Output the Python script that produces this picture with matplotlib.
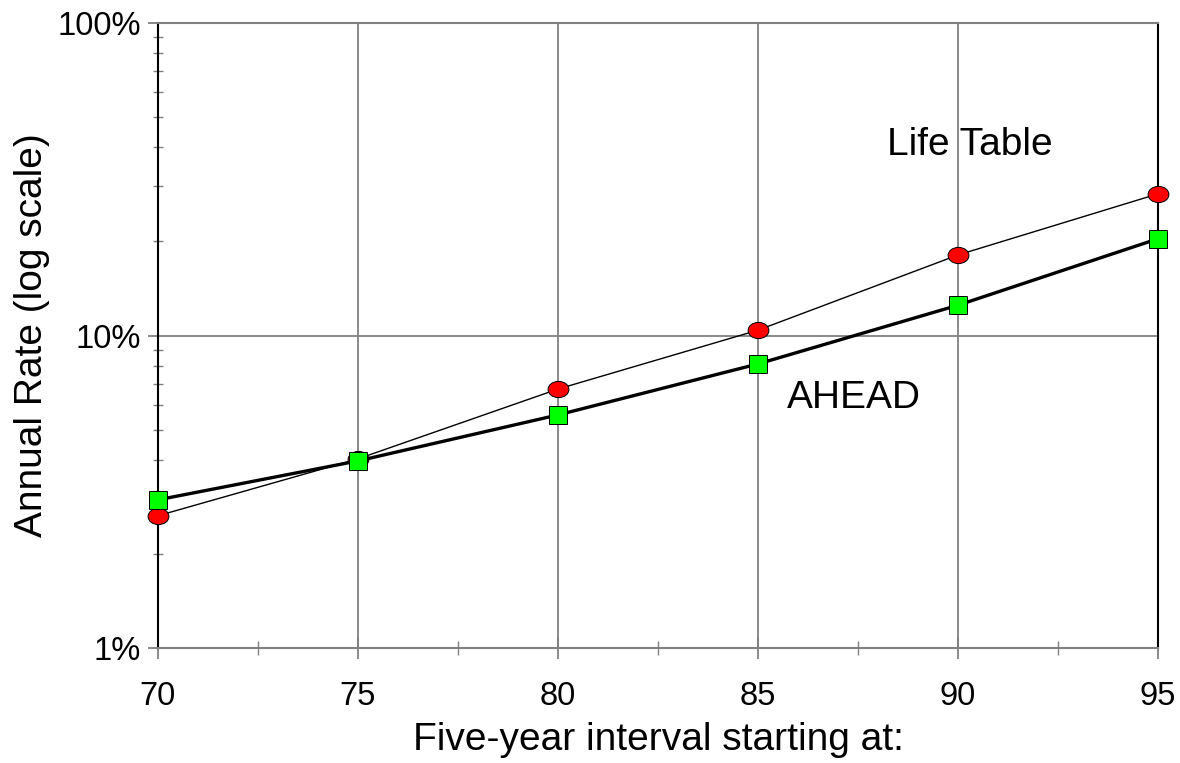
import numpy as np
import matplotlib.pyplot as plt
from matplotlib.path import Path
from matplotlib.transforms import Affine2D
from matplotlib.ticker import FixedLocator, LogLocator, NullFormatter

plt.rcParams.update({
    'font.family': ['Liberation Sans', 'DejaVu Sans'],
    'figure.dpi': 100,
})

# annual rates (%) for each five-year interval
ages = [70, 75, 80, 85, 90, 95]
life_table = [2.65, 4.03, 6.74, 10.4, 18.1, 28.4]
ahead = [2.98, 3.97, 5.57, 8.11, 12.5, 20.4]
ytick_vals = [1, 10, 100]
ytick_labels = ["1%", "10%", "100%"]

GRID = "#808080"

# flattened circle for the life-table markers
ellipse = Path.unit_circle().transformed(Affine2D().scale(1.0, 0.78))

fig = plt.figure(figsize=(11.8, 7.63))
ax = fig.add_axes([158/1180, 1 - 648/763, 1000/1180, 625/763])

ax.plot(ages, life_table, color="black", lw=1.0, marker=ellipse,
        ms=15, mfc="#ff0000", mec="black", mew=0.7, zorder=3, clip_on=False)
ax.plot(ages, ahead, color="black", lw=2.4, marker="s",
        ms=12.5, mfc="#00ff00", mec="black", mew=0.7, zorder=4, clip_on=False)

ax.set_yscale("log")
ax.set_ylim(1, 100)
ax.set_xlim(70, 95)

ax.set_yticks(ytick_vals, ytick_labels)
ax.yaxis.set_minor_locator(LogLocator(base=10, subs=np.arange(2, 10)))
ax.yaxis.set_minor_formatter(NullFormatter())
ax.set_xticks(ages)
ax.xaxis.set_minor_locator(FixedLocator(np.arange(72.5, 95, 5)))

ax.grid(True, which="major", color=GRID, lw=1.3)
ax.set_axisbelow(True)

ax.tick_params(axis="y", which="major", direction="out", length=7.5,
               width=1.3, color=GRID, labelsize=23.5, pad=5)
ax.tick_params(axis="y", which="minor", direction="inout", length=7,
               width=1.0, color=GRID)
ax.tick_params(axis="x", which="major", direction="inout", length=16,
               width=1.3, color=GRID, labelsize=23.5, pad=16)
ax.tick_params(axis="x", which="minor", direction="inout", length=10,
               width=1.0, color=GRID)

for side in ["left", "right"]:
    ax.spines[side].set_color("black")
    ax.spines[side].set_linewidth(1.5)
for side in ["top", "bottom"]:
    ax.spines[side].set_color(GRID)
    ax.spines[side].set_linewidth(1.5)

ax.set_xlabel("Five-year interval starting at:", fontsize=28, labelpad=7)
ax.set_ylabel("Annual Rate (log scale)", fontsize=28, labelpad=5)

ax.text(90.3, 40.7, "Life Table", fontsize=28, ha="center", va="center")
ax.text(87.4, 6.3, "AHEAD", fontsize=28, ha="center", va="center")

fig.savefig("out.png", dpi=100)
